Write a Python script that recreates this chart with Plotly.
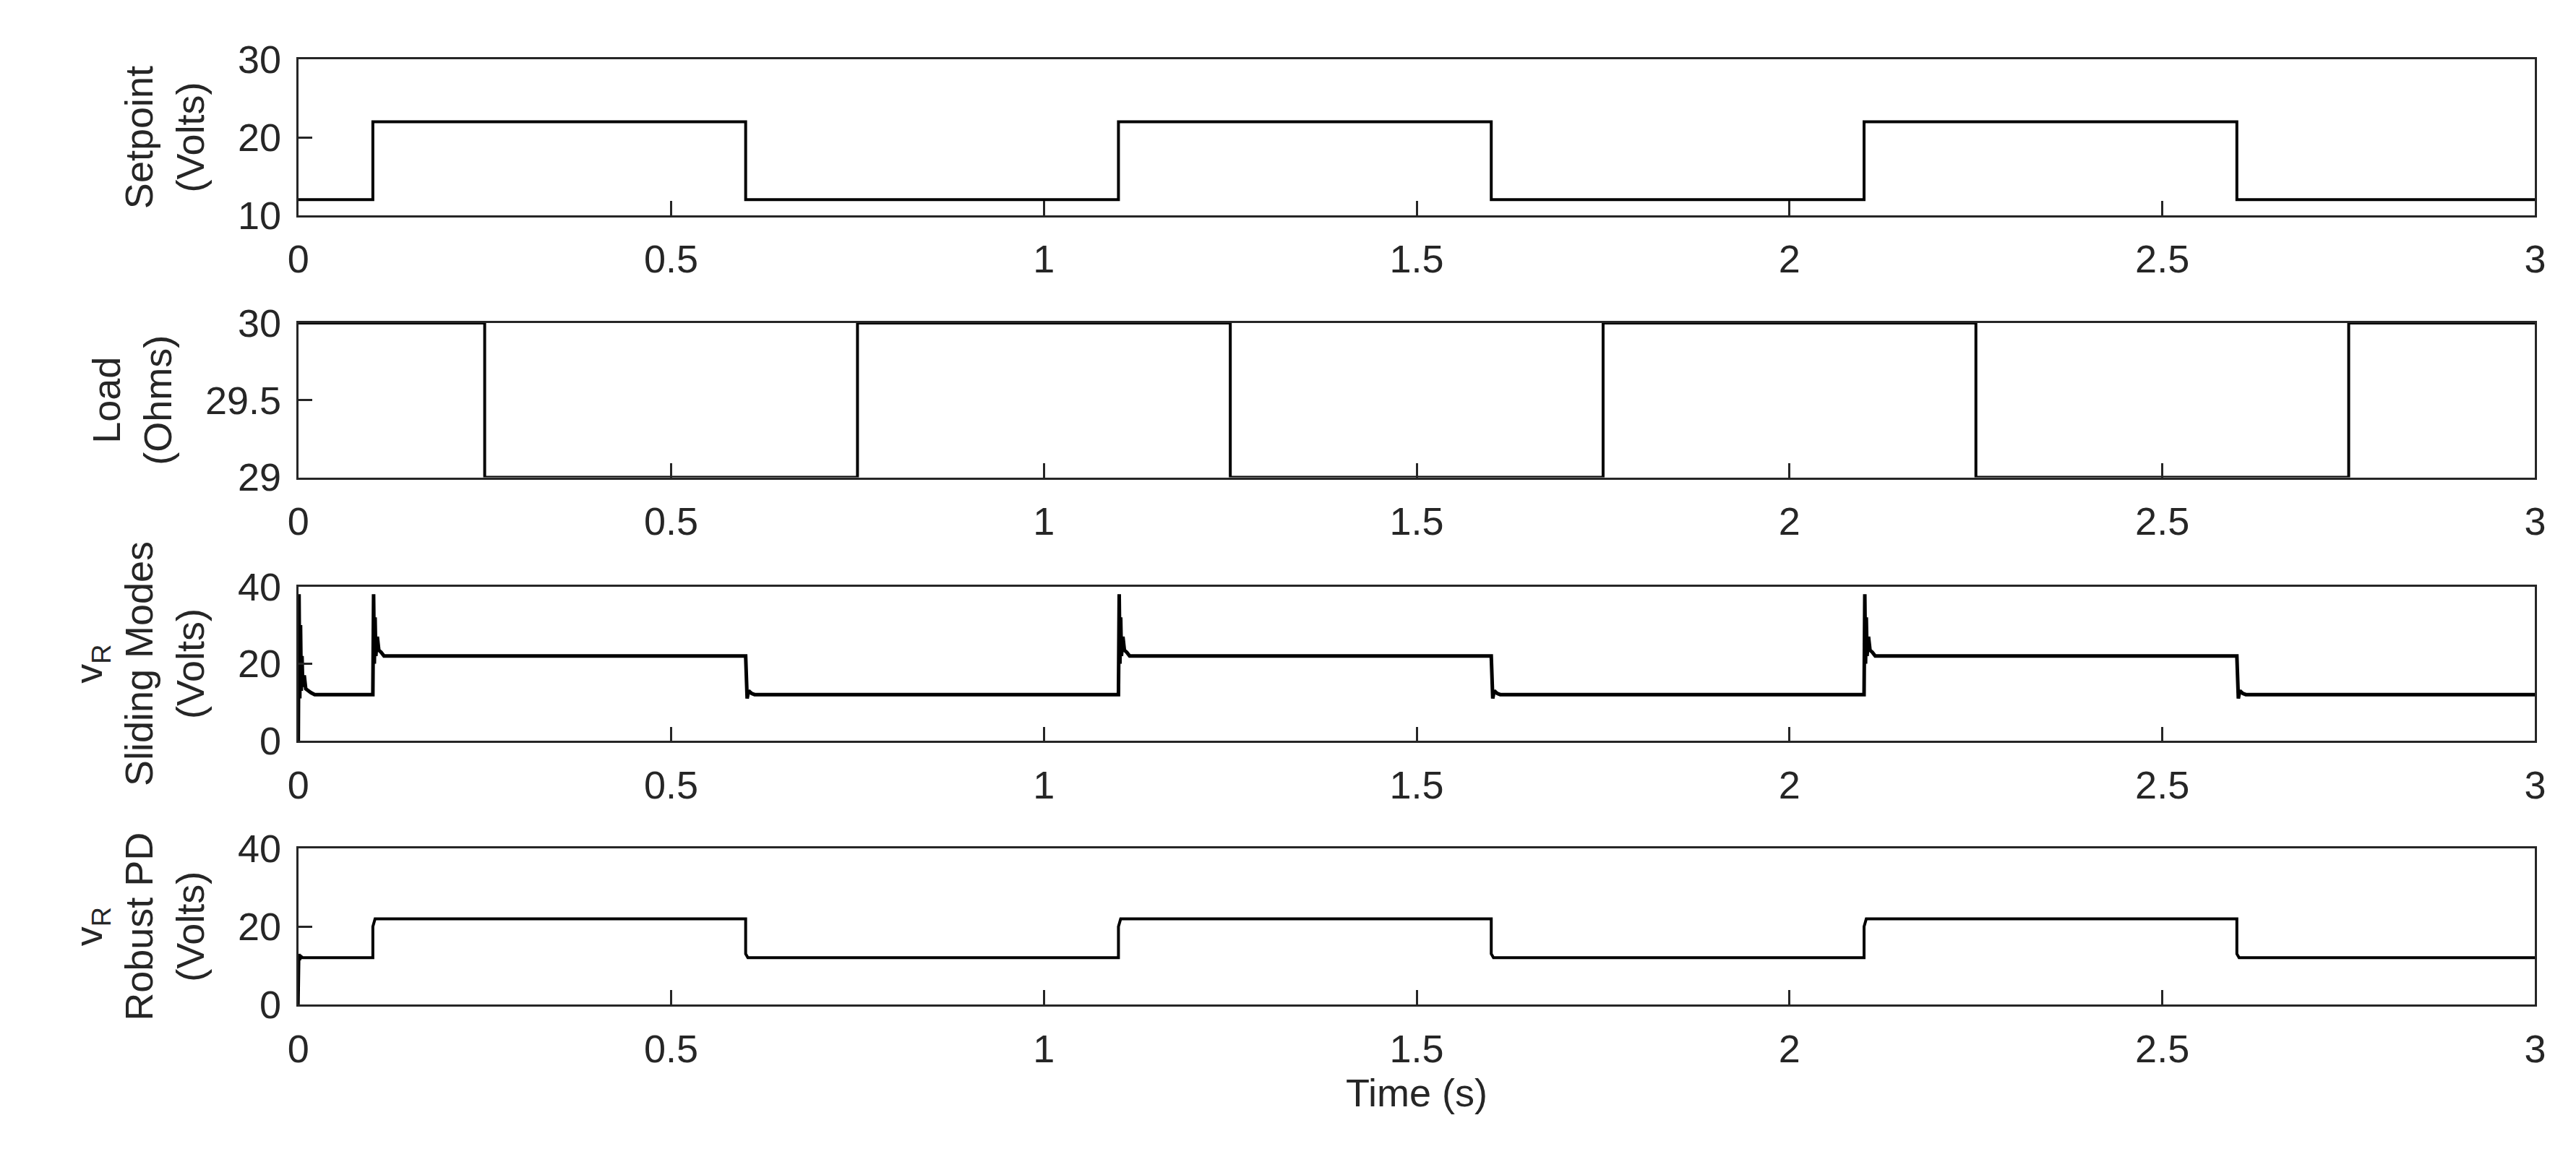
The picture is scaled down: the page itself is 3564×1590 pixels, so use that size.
import plotly.graph_objects as go

# Setpoint (V)
sp_t = [0, 0.1, 0.1, 0.6, 0.6, 1.1, 1.1, 1.6, 1.6, 2.1, 2.1, 2.6, 2.6, 3.0]
sp_v = [12, 12, 22, 22, 12, 12, 22, 22, 12, 12, 22, 22, 12, 12]
# Load (Ohms)
ld_t = [0, 0.25, 0.25, 0.75, 0.75, 1.25, 1.25, 1.75, 1.75, 2.25, 2.25, 2.75, 2.75, 3.0]
ld_v = [30, 30, 29, 29, 30, 30, 29, 29, 30, 30, 29, 29, 30, 30]
# Sliding modes vR (V) - breakpoints
sm_t = [0, 0.001, 0.002, 0.003, 0.004, 0.005, 0.006, 0.008, 0.010, 0.013, 0.017, 0.022, 0.1,
        0.1, 0.101, 0.102, 0.103, 0.104, 0.106, 0.108, 0.111, 0.115, 0.6,
        0.6, 0.602, 0.604, 0.608, 0.612, 1.1,
        1.1, 1.101, 1.102, 1.103, 1.104, 1.106, 1.108, 1.111, 1.115, 1.6,
        1.6, 1.602, 1.604, 1.608, 1.612, 2.1,
        2.1, 2.101, 2.102, 2.103, 2.104, 2.106, 2.108, 2.111, 2.115, 2.6,
        2.6, 2.602, 2.604, 2.608, 2.612, 3.0]
sm_v = [0, 38, 11, 30, 13, 22, 14, 17, 13.5, 13, 12.5, 12, 12,
        12, 38, 20, 32, 22, 27, 23.5, 23, 22, 22,
        22, 11, 13, 12.3, 12, 12,
        12, 38, 20, 32, 22, 27, 23.5, 23, 22, 22,
        22, 11, 13, 12.3, 12, 12,
        12, 38, 20, 32, 22, 27, 23.5, 23, 22, 22,
        22, 11, 13, 12.3, 12, 12]
# Robust PD vR (V)
pd_t = [0, 0.001, 0.002, 0.004, 0.006, 0.1, 0.1, 0.103, 0.6, 0.6, 0.603, 1.1, 1.1, 1.103, 1.6, 1.6, 1.603,
        2.1, 2.1, 2.103, 2.6, 2.6, 2.603, 3.0]
pd_v = [0, 13, 11.5, 12.3, 12, 12, 20, 22, 22, 13, 12, 12, 20, 22, 22, 13, 12,
        12, 20, 22, 22, 13, 12, 12]

x_ticks = [0, 0.5, 1, 1.5, 2, 2.5, 3]
x_labels = ["0", "0.5", "1", "1.5", "2", "2.5", "3"]

W, H = 3564, 1590
L, R = 393, 3514
panels = [(46, 270), (425, 647), (804, 1026), (1181, 1405)]
series = [(sp_t, sp_v, 4), (ld_t, ld_v, 4), (sm_t, sm_v, 5), (pd_t, pd_v, 4)]
yranges = [(10, 30), (29, 30), (0, 40), (0, 40)]
yticks = [[10, 20, 30], [29, 29.5, 30], [0, 20, 40], [0, 20, 40]]
ytitles = ["Setpoint<br>(Volts)", "Load<br>(Ohms)",
           "v<sub>R</sub><br>Sliding Modes<br>(Volts)", "v<sub>R</sub><br>Robust PD<br>(Volts)"]

fig = go.Figure()
font = dict(family="Liberation Sans", size=54, color="#262626")
for i, ((t, v, w), (top, bot)) in enumerate(zip(series, panels)):
    n = "" if i == 0 else str(i + 1)
    fig.add_trace(go.Scatter(x=t, y=v, mode="lines", line=dict(color="black", width=w),
                             xaxis="x" + n, yaxis="y" + n, showlegend=False))
    ax = dict(linecolor="#262626", linewidth=2.5, mirror=True, showline=True, ticks="inside",
              ticklen=20, tickcolor="#262626", tickwidth=2.5, showgrid=False, zeroline=False,
              tickfont=font)
    fig.layout["xaxis" + n] = dict(ax, domain=[L / W, R / W], range=[0, 3], tickvals=x_ticks,
                                   ticktext=x_labels, anchor="y" + n, ticklabelstandoff=12,
                                   title=dict(text="Time (s)", font=font, standoff=14) if i == 3 else None)
    fig.layout["yaxis" + n] = dict(ax, domain=[1 - bot / H, 1 - top / H], range=list(yranges[i]),
                                   tickvals=yticks[i], anchor="x" + n, ticklabelstandoff=10,
                                   title=dict(text=ytitles[i], font=font, standoff=30))

fig.update_layout(width=W, height=H, margin=dict(l=0, r=0, t=0, b=0),
                  paper_bgcolor="white", plot_bgcolor="white")
fig.write_html("out.html")
